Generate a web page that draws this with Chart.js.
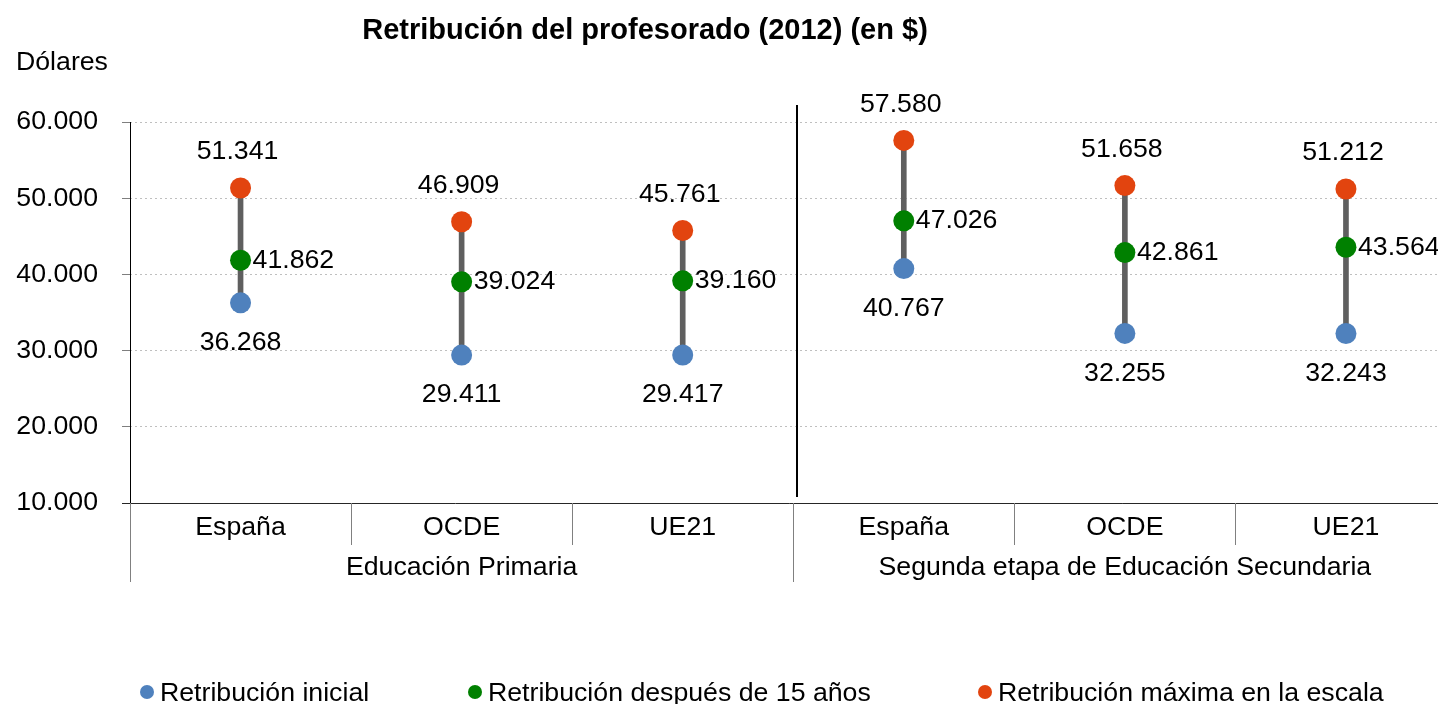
<!DOCTYPE html>
<html>
<head>
<meta charset="utf-8">
<script src="https://cdn.jsdelivr.net/npm/chart.js@4.4.0/dist/chart.umd.min.js"></script>
<style>
  body { margin: 0; background: #fff; font-family: 'Liberation Sans', Arial, sans-serif; color: #000; }
  #wrap { position: relative; width: 1438px; height: 704px; overflow: hidden; }
  #chart { position: absolute; left: 0; top: 0; }
  .title { position: absolute; left: 345px; width: 600px; top: 13px; text-align: center; font-weight: bold; font-size: 29px; line-height: 33px; }
  .unit { position: absolute; left: 16px; top: 46px; font-size: 26.7px; line-height: 30px; }
  .leg { position: absolute; top: 678px; font-size: 26.7px; line-height: 28px; white-space: nowrap; }
  .leg i { position: absolute; left: -20px; top: 7px; width: 14px; height: 14px; border-radius: 50%; }
</style>
</head>
<body>
<div id="wrap">
  <canvas id="chart" width="1467" height="704"></canvas>
  <div class="title">Retribución del profesorado (2012) (en $)</div>
  <div class="unit">Dólares</div>
  <div class="leg" style="left:160px"><i style="background:#4F81BD"></i>Retribución inicial</div>
  <div class="leg" style="left:488px"><i style="background:#008000"></i>Retribución después de 15 años</div>
  <div class="leg" style="left:998px"><i style="background:#E2440F"></i>Retribución máxima en la escala</div>
</div>
<script>
// categories and groups
const categories = ['España', 'OCDE', 'UE21', 'España', 'OCDE', 'UE21'];
const groups = ['Educación Primaria', 'Segunda etapa de Educación Secundaria'];

// values in dollars
const inicial = [36268, 29411, 29417, 40767, 32255, 32243];
const quinceAnos = [41862, 39024, 39160, 47026, 42861, 43564];
const maxima = [51341, 46909, 45761, 57580, 51658, 51212];

const yTicks = [10000, 20000, 30000, 40000, 50000, 60000];

const BLUE = '#4F81BD', GREEN = '#008000', ORANGE = '#E2440F';
const FONT = "'Liberation Sans', Arial, sans-serif";
const FSIZE = 26.7;

function fmt(v) {
  return String(v).replace(/\B(?=(\d{3})+(?!\d))/g, '.');
}

const rangos = inicial.map((v, i) => [v, maxima[i]]);

const axisPlugin = {
  id: 'axisPlugin',
  afterDraw(chart) {
    const ctx = chart.ctx;
    const x = chart.scales.x, y = chart.scales.y;
    const area = chart.chartArea;
    const base = y.getPixelForValue(yTicks[0]);
    const w = (area.right - area.left) / categories.length;
    ctx.save();

    // y axis line
    ctx.strokeStyle = '#000';
    ctx.lineWidth = 1;
    ctx.beginPath();
    ctx.moveTo(area.left + 0.5, area.top);
    ctx.lineTo(area.left + 0.5, base);
    ctx.stroke();

    // x axis line
    ctx.strokeStyle = '#262626';
    ctx.beginPath();
    ctx.moveTo(area.left - 8, base + 0.5);
    ctx.lineTo(area.right, base + 0.5);
    ctx.stroke();

    // category separators
    ctx.strokeStyle = '#808080';
    for (let i = 0; i <= categories.length; i++) {
      const bx = Math.round(area.left + i * w) + 0.5;
      const long = i % 3 === 0;
      ctx.beginPath();
      ctx.moveTo(bx, base);
      ctx.lineTo(bx, base + (long ? 79 : 42));
      ctx.stroke();
    }

    // group divider in plot
    const dx = Math.round(area.left + 3 * w) + 4;
    ctx.strokeStyle = '#000';
    ctx.lineWidth = 2;
    ctx.beginPath();
    ctx.moveTo(dx, area.top - 17);
    ctx.lineTo(dx, base - 6);
    ctx.stroke();

    // category labels
    ctx.fillStyle = '#000';
    ctx.font = FSIZE + 'px ' + FONT;
    ctx.textAlign = 'center';
    ctx.textBaseline = 'middle';
    categories.forEach((c, i) => {
      ctx.fillText(c, x.getPixelForValue(i), base + 25);
    });
    groups.forEach((g, j) => {
      ctx.fillText(g, x.getPixelForValue(j * 3 + 1), base + 65);
    });

    // data labels
    const m0 = chart.getDatasetMeta(1).data;
    const m1 = chart.getDatasetMeta(2).data;
    const m2 = chart.getDatasetMeta(3).data;
    m0.forEach((p, i) => ctx.fillText(fmt(inicial[i]), p.x, p.y + 40));
    m2.forEach((p, i) => ctx.fillText(fmt(maxima[i]), p.x - 3, p.y - 36));
    ctx.textAlign = 'left';
    m1.forEach((p, i) => ctx.fillText(fmt(quinceAnos[i]), p.x + 12, p.y));
    ctx.restore();
  }
};

new Chart(document.getElementById('chart'), {
  type: 'bar',
  data: {
    labels: categories,
    datasets: [
      {
        type: 'bar',
        label: 'rango',
        data: rangos,
        backgroundColor: '#5F5F5F',
        barThickness: 5,
        borderWidth: 0,
        borderSkipped: false,
        order: 10,
      },
      {
        type: 'line',
        label: 'Retribución inicial',
        data: inicial,
        showLine: false,
        pointRadius: 10.5,
        pointBorderWidth: 0,
        pointBackgroundColor: BLUE,
        borderColor: BLUE,
        order: 1,
      },
      {
        type: 'line',
        label: 'Retribución después de 15 años',
        data: quinceAnos,
        showLine: false,
        pointRadius: 10.5,
        pointBorderWidth: 0,
        pointBackgroundColor: GREEN,
        borderColor: GREEN,
        order: 1,
      },
      {
        type: 'line',
        label: 'Retribución máxima en la escala',
        data: maxima,
        showLine: false,
        pointRadius: 10.5,
        pointBorderWidth: 0,
        pointBackgroundColor: ORANGE,
        borderColor: ORANGE,
        order: 1,
      },
    ],
  },
  options: {
    responsive: false,
    animation: false,
    layout: { padding: { left: 0, top: 122, right: 3, bottom: 201 } },
    plugins: {
      legend: { display: false },
      title: { display: false },
      tooltip: { enabled: false },
    },
    scales: {
      x: {
        display: false,
        offset: true,
      },
      y: {
        min: 10000,
        max: 60000,
        afterBuildTicks: (s) => { s.ticks = yTicks.map(v => ({ value: v })); },
        afterFit: (s) => { s.width = 130; },
        ticks: {
          padding: 24,
          color: '#000',
          font: { family: FONT, size: FSIZE },
          callback: (v) => fmt(v),
        },
        grid: {
          color: (c) => (c.tick && c.tick.value === 10000) ? 'rgba(0,0,0,0)' : '#BFBFBF',
          tickColor: '#7F7F7F',
          tickLength: 8,
          lineWidth: 1,
        },
        border: { display: false, dash: [2, 3] },
      },
    },
  },
  plugins: [axisPlugin],
});
</script>
</body>
</html>
